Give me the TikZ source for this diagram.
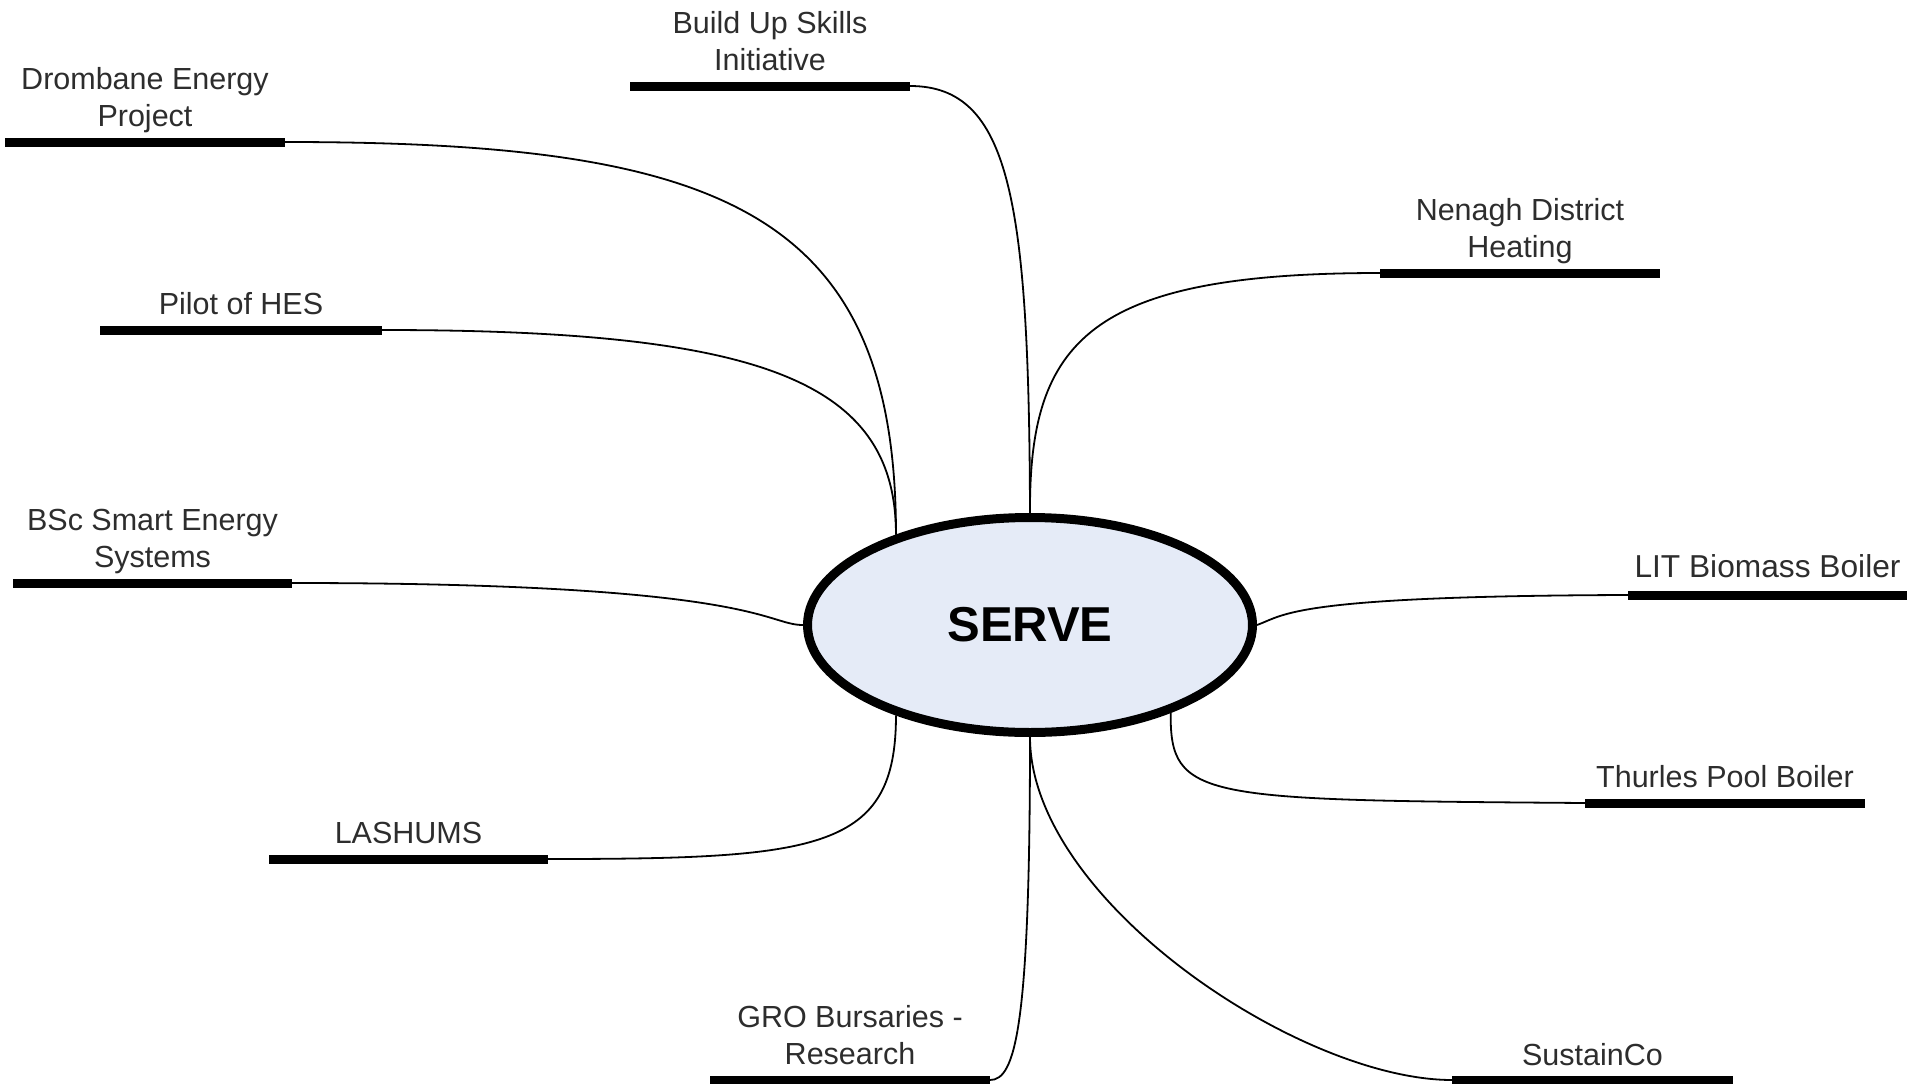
\documentclass[tikz,border=0pt]{standalone}
\usepackage{fontspec}
\setmainfont{Liberation Sans}
\usetikzlibrary{shapes.geometric,positioning}

\definecolor{servefill}{RGB}{229,235,247}
\definecolor{labelgray}{RGB}{45,45,45}

\tikzset{
  topic/.style={text=labelgray, align=center, inner sep=0pt, text depth=0pt},
  bar/.style={line width=9pt},
  link/.style={line width=1.8pt},
}

\begin{document}
\begin{tikzpicture}[x=1pt,y=-1pt]
  \useasboundingbox (0,0) rectangle (1907,1084);
  \node[ellipse, draw, line width=9pt, fill=servefill, minimum width=445pt, minimum height=215pt,
        font=\fontsize{49}{49}\selectfont\bfseries] (serve) at (1030,625) {SERVE};
  % bars, each with its label above
  \foreach \n/\xa/\xb/\y/\fs/\gap/\txt in {
      skills/630/910/86/30.5/11/{Build Up Skills\\Initiative},
      drombane/5/285/142/30.5/11/{Drombane Energy\\Project},
      pilot/100/382/330/30.5/11/{Pilot of HES},
      bsc/13/292/583/30.5/11/{BSc Smart Energy\\Systems},
      lashums/269/548/859/30.5/11/{LASHUMS},
      gro/710/990/1080/30.5/11/{GRO Bursaries -\\Research},
      sustainco/1452/1733/1080/30.5/10/{SustainCo},
      thurles/1585/1865/803/30.5/11/{Thurles Pool Boiler},
      lit/1628/1907/595/31.7/13/{LIT Biomass Boiler},
      nenagh/1380/1660/273/30.5/11/{Nenagh District\\Heating}%
  }{
    \coordinate (\n-l) at (\xa,\y);
    \coordinate (\n-r) at (\xb,\y);
    \draw[bar] (\n-l) -- (\n-r)
      node[midway, above=\gap pt, topic, font=\fontsize{\fs}{37}\selectfont] (\n) {\txt};
  }
  % links to the centre
  \draw[link] (skills-r) .. controls (1010,86) and (1029,200) .. (serve.north);
  \draw[link] (serve.north) .. controls (1029,340) and (1090,273) .. (nenagh-l);
  \draw[link] (drombane-r) .. controls (720,142) and (896,210) .. (serve.146);
  \draw[link] (pilot-r) .. controls (760,330) and (896,380) .. (serve.146);
  \draw[link] (bsc-r) .. controls (760,583) and (765,625) .. (serve.west);
  \draw[link] (lashums-r) .. controls (820,859) and (896,850) .. (serve.214);
  \draw[link] (gro-r) .. controls (1015,1080) and (1030,1030) .. (serve.south);
  \draw[link] (serve.south) .. controls (1030,900) and (1300,1080) .. (sustainco-l);
  \draw[link] (serve.328) .. controls (1170,800) and (1200,800) .. (thurles-l);
  \draw[link] (serve.east) .. controls (1285,615) and (1290,596) .. (lit-l);
\end{tikzpicture}
\end{document}
